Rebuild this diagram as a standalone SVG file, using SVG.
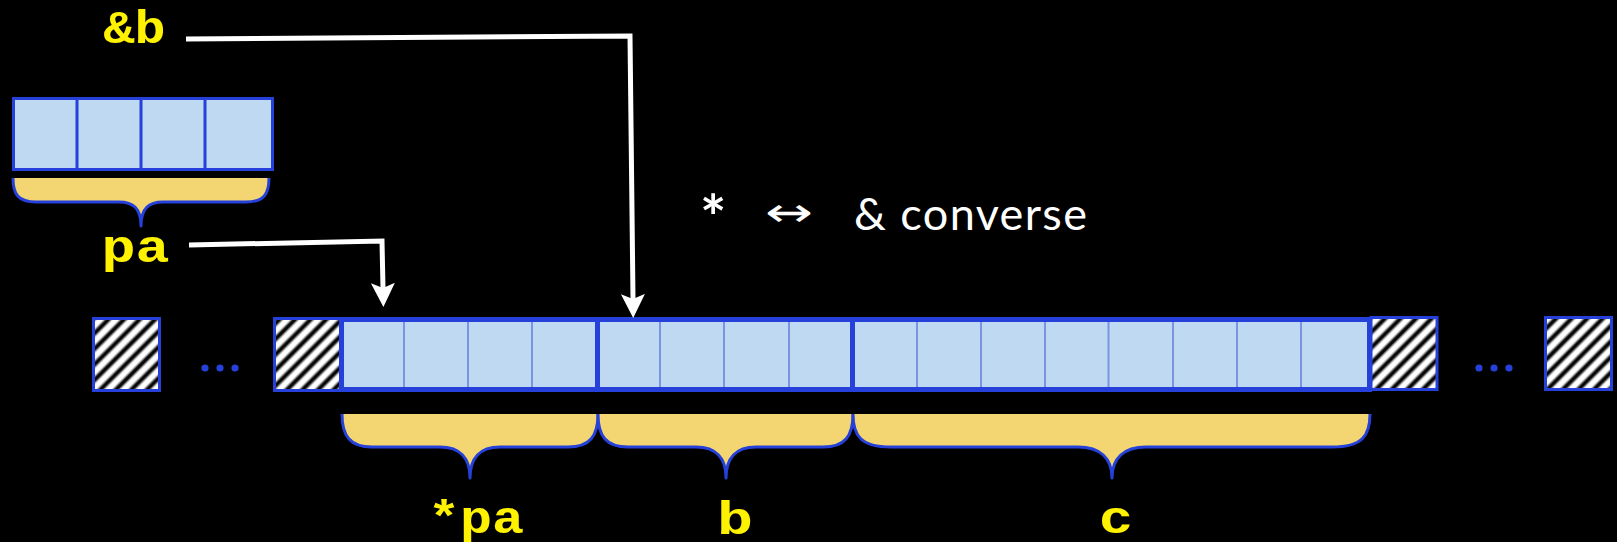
<svg xmlns="http://www.w3.org/2000/svg" width="1617" height="542" viewBox="0 0 1617 542">
  <defs>
    <style>
      .cell { fill: #bfd9f2; }
      .frame { fill: none; stroke: #2541d9; }
      .thin { stroke: #7b93e3; stroke-width: 2; }
      .thick { stroke: #2541d9; stroke-width: 5; }
      .hatch { fill: url(#stripes); stroke: #2541d9; stroke-width: 3; }
      .brace-fill { fill: #f3d672; }
      .brace-line { fill: none; stroke: #2541d9; stroke-width: 3; stroke-linejoin: round; }
      .dot { fill: #2541d9; }
      .code { font-family: "Liberation Mono", "Courier New", monospace; font-weight: bold; font-size: 47px; fill: #fff200; text-anchor: middle; }
      .note { font-family: Lato, "Open Sans", sans-serif; font-size: 45px; fill: #ffffff; }
      .star { font-family: Lato, "Open Sans", sans-serif; font-weight: bold; font-size: 62px; fill: #ffffff; }
      .swap { font-family: "DejaVu Sans", sans-serif; font-size: 40px; fill: #ffffff; }
      .link { fill: none; stroke: #ffffff; stroke-width: 5; stroke-linejoin: miter; }
    </style>
    <linearGradient id="stripeShade" x1="0" y1="0" x2="1" y2="0">
      <stop offset="0" stop-color="#ffffff"/>
      <stop offset="0.18" stop-color="#ffffff"/>
      <stop offset="0.42" stop-color="#050505"/>
      <stop offset="0.58" stop-color="#050505"/>
      <stop offset="0.82" stop-color="#ffffff"/>
      <stop offset="1" stop-color="#ffffff"/>
    </linearGradient>
    <pattern id="stripes" patternUnits="userSpaceOnUse" width="11" height="11" patternTransform="rotate(45)">
      <rect width="11" height="11" fill="url(#stripeShade)"/>
    </pattern>
    <marker id="head" markerUnits="userSpaceOnUse" viewBox="0 -13 25 26" markerWidth="25" markerHeight="26" refX="5" refY="0" orient="auto">
      <path d="M0,-12 L24,0 L0,12 L5,0 Z" fill="#ffffff"/>
    </marker>
  </defs>

  <rect width="1617" height="542" fill="#000000"/>

  <!-- standalone four-cell array with its brace -->
  <g id="pa-array">
    <rect class="cell" x="13.5" y="98.5" width="259" height="71"/>
    <path d="M77,98.5 V169.5 M141,98.5 V169.5 M205,98.5 V169.5" stroke="#2541d9" stroke-width="3"/>
    <rect class="frame" x="13.5" y="98.5" width="259" height="71" stroke-width="3"/>
  </g>
  <g id="pa-brace">
    <path class="brace-fill" d="M13,178 C13,194 18,202 36,202 L119,202 C133,202 141,208 141,226 C141,208 149,202 163,202 L246,202 C264,202 269,194 269,178 Z"/>
    <path class="brace-line" d="M13,178 C13,194 18,202 36,202 L119,202 C133,202 141,208 141,226 C141,208 149,202 163,202 L246,202 C264,202 269,194 269,178"/>
  </g>

  <!-- labels -->
  <g id="label-addr-b"><text class="code" x="134.5" y="43" textLength="62" lengthAdjust="spacingAndGlyphs">&amp;b</text></g>
  <g id="label-pa"><text class="code" x="135.5" y="262" textLength="68" lengthAdjust="spacingAndGlyphs">pa</text></g>
  <g id="label-deref-pa"><text class="code" x="476" y="533" textLength="96" lengthAdjust="spacingAndGlyphs">*pa</text></g>
  <g id="label-b"><text class="code" x="735" y="534" textLength="36" lengthAdjust="spacingAndGlyphs">b</text></g>
  <g id="label-c"><text class="code" x="1116" y="533" textLength="34" lengthAdjust="spacingAndGlyphs">c</text></g>

  <g id="note">
    <text class="star" x="700" y="240">*</text>
    <text class="swap" x="765" y="226" textLength="48" lengthAdjust="spacingAndGlyphs">↔</text>
    <text class="note" x="854" y="230" textLength="233" lengthAdjust="spacing">&amp; converse</text>
  </g>

  <!-- memory row: padding, then *pa, b and c -->
  <g id="pad-left-far"><rect class="hatch" x="93.5" y="318.5" width="66" height="72"/></g>
  <g id="gap-left">
    <circle class="dot" cx="205" cy="368" r="3.6"/>
    <circle class="dot" cx="220" cy="368" r="3.6"/>
    <circle class="dot" cx="235" cy="368" r="3.6"/>
  </g>
  <g id="pad-left"><rect class="hatch" x="274.5" y="318.5" width="66" height="72"/></g>

  <g id="memory">
    <rect class="cell" x="341.5" y="319.5" width="1028" height="70"/>
    <path class="thin" d="M404,321 V388 M468,321 V388 M532,321 V388 M660,321 V388 M724,321 V388 M789,321 V388 M917,321 V388 M981,321 V388 M1045,321 V388 M1108.5,321 V388 M1173,321 V388 M1237,321 V388 M1301,321 V388"/>
    <path class="thick" d="M597.5,319.5 V389.5 M852.5,319.5 V389.5"/>
    <rect class="frame" x="341.5" y="319.5" width="1028" height="70" stroke-width="5"/>
  </g>

  <g id="pad-right"><rect class="hatch" x="1371" y="317.5" width="66" height="72"/></g>
  <g id="gap-right">
    <circle class="dot" cx="1479" cy="368" r="3.6"/>
    <circle class="dot" cx="1494" cy="368" r="3.6"/>
    <circle class="dot" cx="1509" cy="368" r="3.6"/>
  </g>
  <g id="pad-right-far"><rect class="hatch" x="1545.5" y="317.5" width="66" height="72"/></g>

  <!-- braces under the row -->
  <g id="brace-deref-pa">
    <path class="brace-fill" d="M342,414 C342,436 350,447 372,447 L440,447 C460,447 470,458 470,478 C470,458 480,447 500,447 L568,447 C590,447 598,436 598,414 Z"/>
    <path class="brace-line" d="M342,414 C342,436 350,447 372,447 L440,447 C460,447 470,458 470,478 C470,458 480,447 500,447 L568,447 C590,447 598,436 598,414"/>
  </g>
  <g id="brace-b">
    <path class="brace-fill" d="M598,414 C598,436 606,447 628,447 L696,447 C716,447 726,458 726,478 C726,458 736,447 756,447 L823,447 C845,447 853,436 853,414 Z"/>
    <path class="brace-line" d="M598,414 C598,436 606,447 628,447 L696,447 C716,447 726,458 726,478 C726,458 736,447 756,447 L823,447 C845,447 853,436 853,414"/>
  </g>
  <g id="brace-c">
    <path class="brace-fill" d="M853,414 C853,436 861,447 891,447 L1078,447 C1100,447 1112,458 1112,478 C1112,458 1124,447 1146,447 L1332,447 C1362,447 1370,436 1370,414 Z"/>
    <path class="brace-line" d="M853,414 C853,436 861,447 891,447 L1078,447 C1100,447 1112,458 1112,478 C1112,458 1124,447 1146,447 L1332,447 C1362,447 1370,436 1370,414"/>
  </g>

  <!-- pointer connectors -->
  <g id="connectors">
    <path class="link" d="M186,39 L630,36 L633,299" marker-end="url(#head)"/>
    <path class="link" d="M189,245 L382,241 L383,288" marker-end="url(#head)"/>
  </g>
</svg>
